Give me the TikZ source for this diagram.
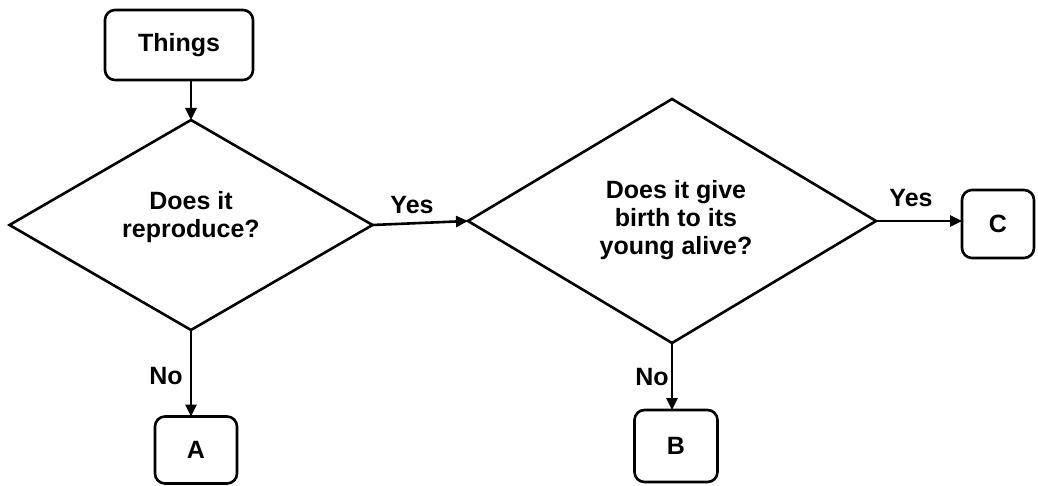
\documentclass[tikz,border=0pt]{standalone}
\usepackage{fontspec}
\setmainfont{Liberation Sans}
\usetikzlibrary{shapes.geometric,arrows.meta}
\begin{document}
\begin{tikzpicture}[x=1pt,y=-1pt,line width=2.6pt,
  every node/.style={font=\fontsize{25}{28}\selectfont\bfseries},
  box/.style={draw,rounded corners=10pt,inner sep=0pt,outer sep=0pt},
  dia/.style={draw,diamond,inner sep=0pt,outer sep=0pt},
  txt/.style={align=center,inner sep=0pt},
  lbl/.style={inner sep=0pt},
  arr/.style={-{Triangle[length=12pt,width=11pt]}}]
\useasboundingbox (0,0) rectangle (1038,486);
\node[box,minimum width=148pt,minimum height=70pt] (things) at (179,45) {Things};
\node[dia,minimum width=363pt,minimum height=210pt] (d1) at (191,225) {};
\node[txt] (t1) at (191,217) {Does it\\reproduce?};
\node[dia,minimum width=408pt,minimum height=244pt] (d2) at (672,221) {};
\node[txt] (t2) at (676,220) {Does it give\\birth to its\\young alive?};
\node[box,minimum width=82pt,minimum height=67pt] (A) at (196,450) {A};
\node[box,minimum width=83pt,minimum height=72pt] (B) at (676,446) {B};
\node[box,minimum width=72pt,minimum height=68pt] (C) at (998,224) {C};
\draw[arr] ([xshift=12pt]things.south) -- (d1.north);
\draw[arr] (d1.east) -- (d2.west);
\draw[arr] (d1.south) -- (d1.south |- A.north);
\draw[arr] (d2.south) -- (d2.south |- B.north);
\draw[arr] (d2.east) -- (d2.east -| C.west);
\node[lbl] (yes1) at (412,205) {Yes};
\node[lbl] (yes2) at (911,198) {Yes};
\node[lbl] (no1) at (166,376) {No};
\node[lbl] (no2) at (652,377) {No};
\end{tikzpicture}
\end{document}
